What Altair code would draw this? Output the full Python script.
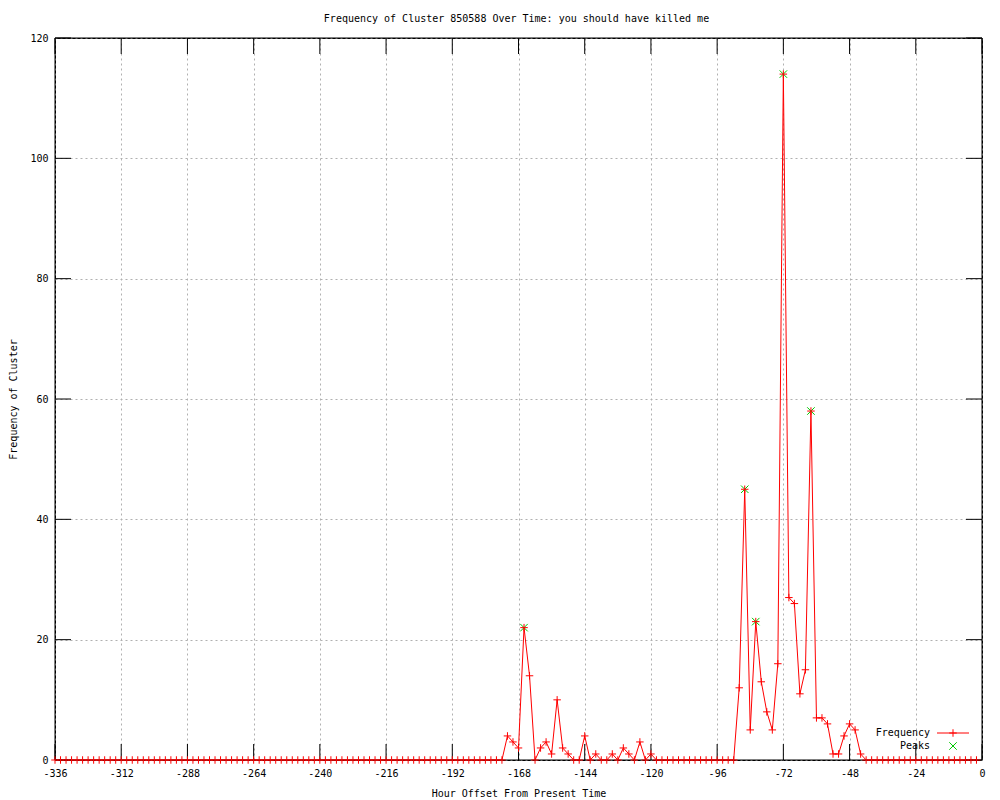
import altair as alt
import pandas as pd

# ---- data ----
hours = list(range(-336, 0, 2))  # every 2 hours, -336 .. -2
nonzero_hours = [-172, -170, -168, -166, -164, -160, -158, -156, -154, -152, -150,
                 -144, -140, -134, -130, -128, -124, -120,
                 -88, -86, -84, -82, -80, -78, -76, -74, -72, -70, -68, -66, -64,
                 -62, -60, -58, -56, -54, -52, -50, -48, -46, -44]
nonzero_values = [4, 3, 2, 22, 14, 2, 3, 1, 10, 2, 1,
                  4, 1, 1, 2, 1, 3, 1,
                  12, 45, 5, 23, 13, 8, 5, 16, 114, 27, 26, 11, 15,
                  58, 7, 7, 6, 1, 1, 4, 6, 5, 1]
peak_hours = [-166, -86, -82, -72, -62]
peak_values = [22, 45, 23, 114, 58]

x_tick_values = [-336, -312, -288, -264, -240, -216, -192, -168, -144, -120, -96, -72, -48, -24, 0]
y_tick_values = [0, 20, 40, 60, 80, 100, 120]

title_text = "Frequency of Cluster 850588 Over Time: you should have killed me"
x_title = "Hour Offset From Present Time"
y_title = "Frequency of Cluster"
legend_labels = ["Frequency", "Peaks"]

lookup = dict(zip(nonzero_hours, nonzero_values))
freq_df = pd.DataFrame({"hour": hours, "freq": [lookup.get(h, 0) for h in hours]})
peak_df = pd.DataFrame({"hour": peak_hours, "freq": peak_values})
xt_df = pd.DataFrame({"v": x_tick_values})
yt_df = pd.DataFrame({"v": y_tick_values})
one = pd.DataFrame({"k": [0]})

# ---- style ----
FONT = "DejaVu Sans Mono"
W, H = 927, 722
RED = "#ff0000"
GREEN = "#00c800"
PLUS = "M-1,0L1,0M0,-1L0,1"
CROSS = "M-1,-1L1,1M-1,1L1,-1"
TICK = 16

xscale = alt.Scale(domain=[-336, 0], nice=False, zero=False)
yscale = alt.Scale(domain=[0, 120], nice=False, zero=False)

grid_kw = dict(grid=True, gridColor="#b0b0b0", gridDash=[2, 3], gridWidth=1,
               ticks=False, domain=False, labelFont=FONT, labelFontSize=10,
               labelColor="black", titleFont=FONT, titleFontSize=10,
               titleFontWeight="normal", titleColor="black")

x_axis = alt.Axis(values=x_tick_values, title=x_title, labelPadding=8, orient="bottom",
                  labelExpr="'' + datum.value", labelFlush=False,
                  titleX=W / 2, titleY=33, titleBaseline="middle", **grid_kw)
y_axis = alt.Axis(values=y_tick_values, title=y_title, labelPadding=7, orient="left",
                  labelExpr="'' + datum.value", labelFlush=False,
                  titleX=-42, titleY=H / 2, titleAngle=-90, titleAlign="center",
                  titleBaseline="middle", **grid_kw)

X = alt.X("hour:Q", scale=xscale, axis=x_axis)
Y = alt.Y("freq:Q", scale=yscale, axis=y_axis)

line = alt.Chart(freq_df).mark_line(color=RED, strokeWidth=1).encode(x=X, y=Y)

peaks = alt.Chart(peak_df).mark_point(shape=CROSS, filled=False, color=GREEN,
                                       strokeWidth=1, size=56, opacity=1).encode(x=X, y=Y)

pts = alt.Chart(freq_df).mark_point(shape=PLUS, filled=False, color=RED,
                                     strokeWidth=1, size=56, opacity=1).encode(x=X, y=Y)

# inward gnuplot-style ticks, mirrored
XT = alt.X("v:Q", scale=xscale, axis=x_axis)
YT = alt.Y("v:Q", scale=yscale, axis=y_axis)
tick_b = alt.Chart(xt_df).mark_rule(color="black", strokeWidth=1).encode(
    x=XT, y=alt.value(H), y2=alt.value(H - TICK))
tick_t = alt.Chart(xt_df).mark_rule(color="black", strokeWidth=1).encode(
    x=XT, y=alt.value(0), y2=alt.value(TICK))
tick_l = alt.Chart(yt_df).mark_rule(color="black", strokeWidth=1).encode(
    y=YT, x=alt.value(0), x2=alt.value(TICK))
tick_r = alt.Chart(yt_df).mark_rule(color="black", strokeWidth=1).encode(
    y=YT, x=alt.value(W), x2=alt.value(W - TICK))

# solid border drawn above the grid
border_top = alt.Chart(one).mark_rule(color="black", strokeWidth=1).encode(
    x=alt.value(0), x2=alt.value(W), y=alt.value(0))
border_bot = alt.Chart(one).mark_rule(color="black", strokeWidth=1).encode(
    x=alt.value(0), x2=alt.value(W), y=alt.value(H))
border_l = alt.Chart(one).mark_rule(color="black", strokeWidth=1).encode(
    y=alt.value(0), y2=alt.value(H), x=alt.value(0))
border_r = alt.Chart(one).mark_rule(color="black", strokeWidth=1).encode(
    y=alt.value(0), y2=alt.value(H), x=alt.value(W))

# title as text
title = alt.Chart(one).mark_text(text=title_text, font=FONT, fontSize=10,
                                 align="center", baseline="middle", color="black").encode(
    x=alt.value(W / 2 - 2), y=alt.value(-19))

# legend (bottom-right, inside)
leg_t1 = alt.Chart(one).mark_text(text=legend_labels[0], font=FONT, fontSize=10,
                                  align="right", baseline="middle", color="black").encode(
    x=alt.value(875), y=alt.value(695))
leg_t2 = alt.Chart(one).mark_text(text=legend_labels[1], font=FONT, fontSize=10,
                                  align="right", baseline="middle", color="black").encode(
    x=alt.value(875), y=alt.value(708))
leg_line = alt.Chart(one).mark_rule(color=RED, strokeWidth=1).encode(
    x=alt.value(882), x2=alt.value(914), y=alt.value(695))
leg_plus = alt.Chart(one).mark_point(shape=PLUS, filled=False, color=RED,
                                     strokeWidth=1, size=56, opacity=1).encode(
    x=alt.value(898), y=alt.value(695))
leg_cross = alt.Chart(one).mark_point(shape=CROSS, filled=False, color=GREEN,
                                      strokeWidth=1, size=56, opacity=1).encode(
    x=alt.value(898), y=alt.value(708))

chart = alt.layer(
    line, tick_b, tick_t, tick_l, tick_r,
    border_top, border_bot, border_l, border_r,
    peaks, pts,
    title, leg_t1, leg_t2, leg_line, leg_plus, leg_cross,
).properties(
    width=W, height=H,
    autosize=alt.AutoSizeParams(type="none"),
    padding={"left": 47, "top": 30, "right": 10, "bottom": 40},
    background="white",
).configure_view(stroke="black", strokeWidth=1)

chart.save("out.html", embed_options={"renderer": "svg", "actions": False})
